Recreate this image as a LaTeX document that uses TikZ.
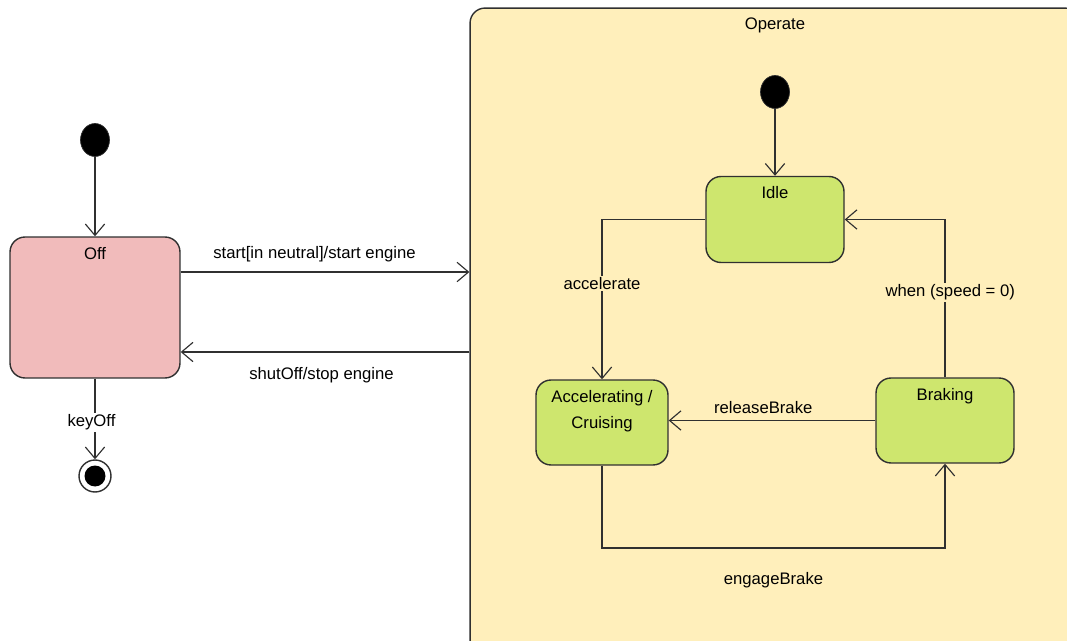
\documentclass[tikz,border=0pt]{standalone}
\usepackage{fontspec}
\setmainfont{Liberation Sans}
\usetikzlibrary{arrows.meta, shapes}
\definecolor{offfill}{HTML}{F1BBBB}
\definecolor{grnfill}{HTML}{CEE66E}
\definecolor{opfill}{HTML}{FFEFBB}
\definecolor{linecol}{HTML}{303030}
\tikzset{
		uml state/.style={draw=linecol, line width=0.8pt, rounded corners=0.3cm, inner sep=0pt},
		off state/.style={uml state, fill=offfill, minimum width=3.4cm, minimum height=2.82cm},
		op state/.style={uml state, fill=grnfill, minimum width=2.76cm, minimum height=1.72cm},
		init dot/.style={ellipse, fill=black, draw=linecol, minimum width=0.58cm, minimum height=0.66cm, inner sep=0pt},
		final dot/.style={circle, draw=linecol, line width=0.8pt, minimum size=0.64cm, inner sep=0pt,
			path picture={\fill[black] (path picture bounding box.center) circle (0.21cm);}},
		trans/.style={draw=linecol, line width=0.65pt, -{Straight Barb[length=6.5pt, width=11pt, line width=0.65pt]}},
		title/.style={anchor=north, inner sep=1pt, yshift=-5pt, align=center}
	}

\begin{document}
\begin{tikzpicture}[x=0.02cm, y=-0.02cm, font=\fontsize{9.5}{15}\selectfont, every label/.style={title}]
				\clip (0,0) rectangle (1067,641);

				\node[uml state, fill=opfill, minimum width=12.2cm, minimum height=13.04cm,
					label={north:Operate}] (op) at (775,334) {};

				\node[init dot]                               (i0)   at (95,140)    {};
				\node[off state, label={north:Off}]            (off)  at (95,307.5)  {};
				\node[final dot]                              (fin)  at (95,476)    {};
				\node[init dot]                               (i1)   at (775,92)    {};
				\node[op state, label={north:Idle}]            (idle) at (775,219.5) {};
				\node[op state, minimum width=2.64cm, minimum height=1.7cm,
					label={north:Accelerating /\\Cruising}]    (acc)  at (602,422.5) {};
				\node[op state, minimum height=1.7cm, label={north:Braking}] (brk) at (945,420.5) {};

				\path[trans] (i0) edge (off);
				\path[trans] (i1) edge (idle);
				\draw[trans] (off.south) -- (fin)
					node[midway, fill=white, inner sep=1pt, xshift=-2pt, yshift=-2pt] {keyOff};

				\draw[trans] (off.east |- 0,272) -- (op.west |- 0,272)
					node[midway, anchor=south, yshift=2pt, xshift=-6pt] {start[in neutral]/start engine};
				\draw[trans] (op.west |- 0,352) -- (off.east |- 0,352)
					node[midway, anchor=north, yshift=-5pt, xshift=-2pt] {shutOff/stop engine};

				\draw[trans] (idle.west) -| (acc.north)
					node[pos=0.7, fill=opfill, inner sep=1pt] {accelerate};
				\draw[trans] (brk.north) |- (idle.east)
					node[pos=0.27, fill=opfill, inner sep=1pt, xshift=3pt] {when (speed = 0)};
				\draw[trans] (brk.west) -- (acc.east |- brk.west)
					node[midway, anchor=south, yshift=0pt, xshift=-5pt] {releaseBrake};
				\draw[trans] (acc.south) -- (acc.south |- 0,548) -| (brk.south)
					node[pos=0.25, anchor=north, yshift=-10pt] {engageBrake};
			\end{tikzpicture}
\end{document}
